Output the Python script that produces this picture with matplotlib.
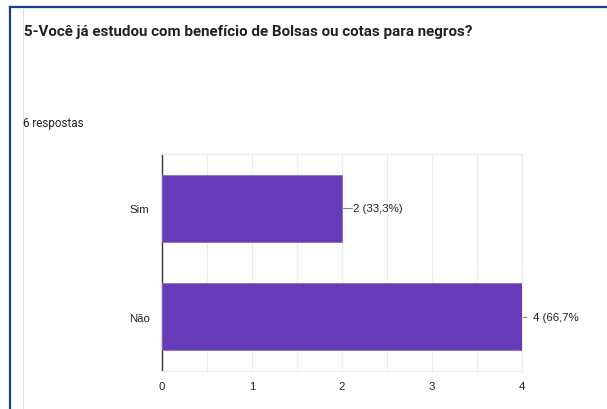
import matplotlib.pyplot as plt
from matplotlib.lines import Line2D

categorias = ['Sim', 'Não']
valores = [2, 4]
rotulos = ['2 (33,3%)', '4 (66,7%']
titulo = '5-Você já estudou com benefício de Bolsas ou cotas para negros?'
subtitulo = '6 respostas'

plt.rcParams['font.family'] = ['Roboto', 'DejaVu Sans']

fig = plt.figure(figsize=(6.07, 4.10), dpi=100)
W, H = 607, 410

# moldura do recorte
fig.add_artist(Line2D([10 / W, 10 / W], [0, 1 - 8 / H], color='#1c3f8c', lw=1.6))
fig.add_artist(Line2D([10 / W, 1], [1 - 8 / H, 1 - 8 / H], color='#1c3f8c', lw=1.6))
fig.add_artist(Line2D([23 / W, 23 / W], [0, 1 - 10 / H], color='#e0e0e0', lw=0.8))

fig.text(24 / W, 1 - 32 / H, titulo, fontsize=10.9, fontweight='bold',
         color='#212121', va='center', ha='left')
fig.text(23 / W, 1 - 123 / H, subtitulo, fontsize=8.4, color='#212121',
         va='center', ha='left')

fonte_graf = ['Liberation Sans', 'DejaVu Sans']

ax = fig.add_axes([162 / W, 1 - 372 / H, 360 / W, 217 / H])
y = list(range(len(categorias)))
ax.barh(y, valores, height=0.62, color='#673ab7', edgecolor='#8e6fd0', lw=0.6, zorder=3)

ax.set_xlim(0, 4)
ax.set_ylim(1.5, -0.5)
ax.set_yticks(y)
ax.set_yticklabels(categorias, family=fonte_graf)
ax.set_xticks([0, 1, 2, 3, 4])
ax.set_xticklabels(['0', '1', '2', '3', '4'], family=fonte_graf)
ax.set_xticks([0.5, 1.5, 2.5, 3.5], minor=True)
ax.grid(axis='x', which='both', color='#ececec', lw=0.8, zorder=0)
ax.tick_params(axis='both', which='both', length=0, labelsize=8.2, labelcolor='#222222')
ax.tick_params(axis='y', pad=9)
ax.tick_params(axis='x', pad=7)

for s in ['top', 'right', 'bottom']:
    ax.spines[s].set_color('#ececec')
    ax.spines[s].set_linewidth(0.8)
ax.spines['left'].set_color('#333333')
ax.spines['left'].set_linewidth(1.0)

for i, (v, r) in enumerate(zip(valores, rotulos)):
    if i == 0:
        ax.plot([v, v + 0.11], [i, i], color='#888888', lw=0.8, clip_on=False, zorder=4)
        ax.text(v + 0.12, i, r, fontsize=8.2, color='#222222', va='center', ha='left',
                family=fonte_graf)
    else:
        ax.plot([v + 0.01, v + 0.04], [i, i], color='#888888', lw=0.8, clip_on=False, zorder=4)
        ax.text(v + 0.12, i, r, fontsize=8.2, color='#222222', va='center', ha='left',
                family=fonte_graf)

fig.savefig('out.png', dpi=100)
